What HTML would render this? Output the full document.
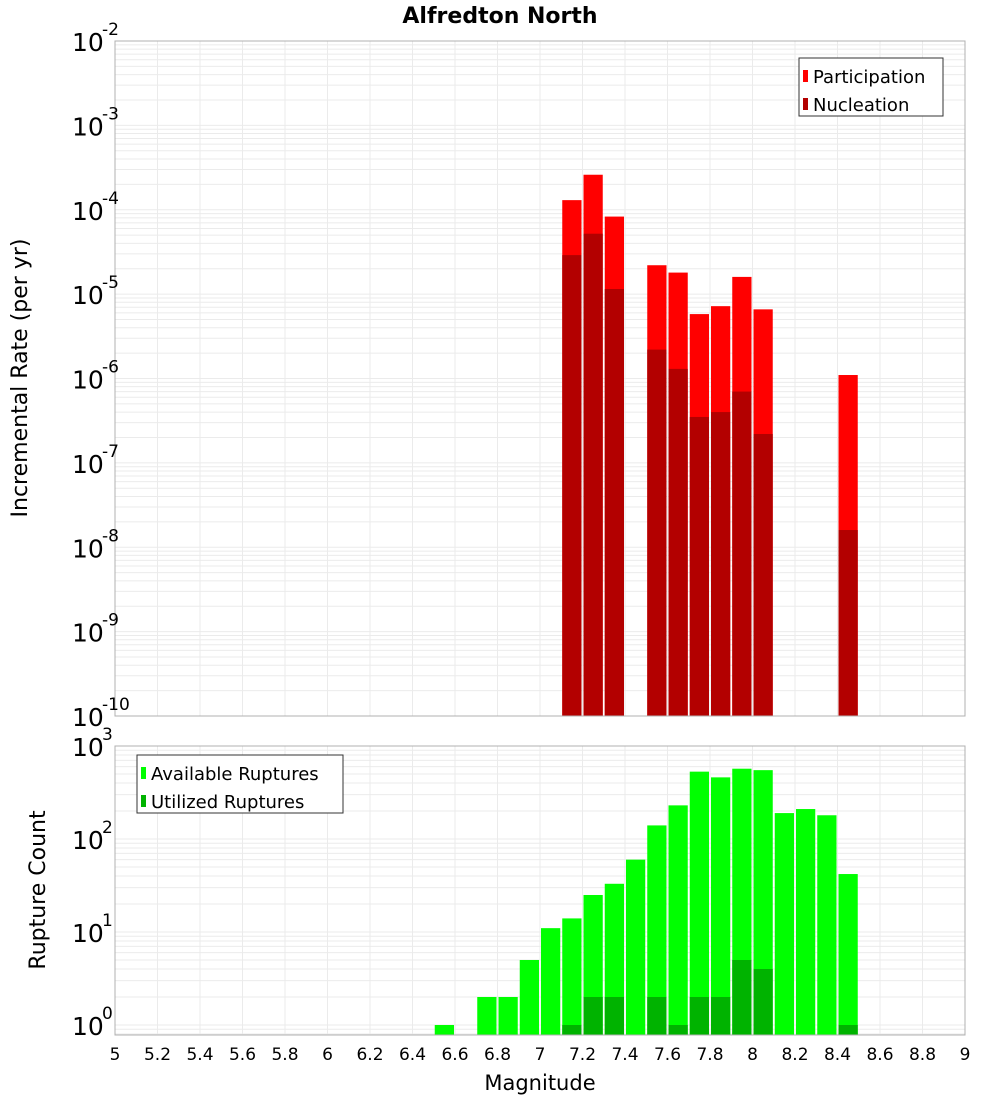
<!DOCTYPE html>
<html><head><meta charset="utf-8"><style>
body{margin:0;background:#fff;}
svg text{font-family:"DejaVu Sans","Liberation Sans",sans-serif;}
</style></head><body>
<svg id="c" width="1000" height="1100" xmlns="http://www.w3.org/2000/svg">
<text x="500" y="23" text-anchor="middle" font-size="22" font-weight="bold">Alfredton North</text>
<g id="top"></g>
<g id="bot"></g>
<text x="540" y="1090" text-anchor="middle" font-size="21">Magnitude</text>
<text transform="translate(27,378) rotate(-90)" text-anchor="middle" font-size="22">Incremental Rate (per yr)</text>
<text transform="translate(45,890) rotate(-90)" text-anchor="middle" font-size="22">Rupture Count</text>
</svg>
<script>
const topMags=[7.15,7.25,7.35,7.55,7.65,7.75,7.85,7.95,8.05,8.45];
const participation=[1.3e-4,2.6e-4,8.3e-5,2.2e-5,1.8e-5,5.8e-6,7.2e-6,1.6e-5,6.6e-6,1.1e-6];
const nucleation=[2.9e-5,5.2e-5,1.15e-5,2.2e-6,1.3e-6,3.5e-7,4e-7,7e-7,2.2e-7,1.6e-8];
const botMags=[6.55,6.75,6.85,6.95,7.05,7.15,7.25,7.35,7.45,7.55,7.65,7.75,7.85,7.95,8.05,8.15,8.25,8.35,8.45];
const available=[1,2,2,5,11,14,25,33,60,140,230,530,460,570,550,190,210,180,42];
const utilMags=[7.15,7.25,7.35,7.55,7.65,7.75,7.85,7.95,8.05,8.45];
const utilized=[1,2,2,2,1,2,2,5,4,1];
const xTicks=["5","5.2","5.4","5.6","5.8","6","6.2","6.4","6.6","6.8","7","7.2","7.4","7.6","7.8","8","8.2","8.4","8.6","8.8","9"];
const topDecades=[-10,-9,-8,-7,-6,-5,-4,-3,-2];
const botDecades=[0,1,2,3];

const NS="http://www.w3.org/2000/svg";
const X0=115,X1=965;
const x=m=>X0+(m-5)/4*(X1-X0);
const yT=v=>716-(Math.log10(v)+10)*(675/8);
const yB=v=>1025-Math.log10(v)*93;
function mk(p,t,a){const e=document.createElementNS(NS,t);for(const k in a)e.setAttribute(k,a[k]);p.appendChild(e);return e;}
const gTop=document.getElementById('top'),gBot=document.getElementById('bot');

function grid(g,y0,y1,yf,decs){
  for(let i=0;i<=20;i++){const xx=x(5+i*0.2);const l=mk(g,'line',{x1:xx,x2:xx,y1:y0,y2:y1,stroke:'#ebebeb'});
  
  }
  for(let d=decs[0]-1;d<=decs[decs.length-1];d++)for(let k=1;k<10;k++){const yy=yf(k*Math.pow(10,d));if(yy<y0-0.5||yy>y1+0.5)continue;const l=mk(g,'line',{x1:X0,x2:X1,y1:yy,y2:yy,stroke:'#ebebeb'});
  
  }
}
grid(gTop,41,716,yT,topDecades);
grid(gBot,746,1035,yB,botDecades);

function bar(g,m,v,yf,base,col,name){const w=x(5.1)-x(5);const yy=yf(v);const r=mk(g,'rect',{x:x(m-0.05)+1,y:yy,width:w-2,height:base-yy,fill:col});
 
 }
topMags.forEach((m,i)=>bar(gTop,m,participation[i],yT,716,'#ff0000','participation-bar'));
topMags.forEach((m,i)=>bar(gTop,m,nucleation[i],yT,716,'#b30000','nucleation-bar'));
botMags.forEach((m,i)=>bar(gBot,m,available[i],yB,1035,'#00ff00','available-bar'));
utilMags.forEach((m,i)=>bar(gBot,m,utilized[i],yB,1035,'#00b300','utilized-bar'));

let f=mk(gTop,'rect',{x:X0,y:41,width:X1-X0,height:675,fill:'none',stroke:'#b0b0b0'});


f=mk(gBot,'rect',{x:X0,y:746,width:X1-X0,height:289,fill:'none',stroke:'#b0b0b0'});



function ylab(g,d,yy){const t=mk(g,'text',{x:72,y:yy+10,'font-size':25});t.textContent='10';
 
 
 const s=mk(g,'text',{x:102,y:yy-6,'font-size':17});s.textContent=String(d);
 
 }
topDecades.forEach(d=>ylab(gTop,d,yT(Math.pow(10,d))));
botDecades.forEach(d=>ylab(gBot,d,yB(Math.pow(10,d))));
xTicks.forEach((s,i)=>{const t=mk(gBot,'text',{x:x(5+i*0.2),y:1060,'font-size':17,'text-anchor':'middle'});t.textContent=s;
 
 });

function legend(g,lx,ly,w,items){const r=mk(g,'rect',{x:lx,y:ly,width:w,height:58,fill:'#fff',stroke:'#333'});
 
 
 items.forEach((it,i)=>{const yy=ly+18+i*28;const s=mk(g,'rect',{x:lx+4,y:yy-6,width:5,height:12,fill:it[1]});
 
 
 const t=mk(g,'text',{x:lx+14,y:yy+7,'font-size':18});t.textContent=it[0];
 
 });}
legend(gTop,799,58,144,[['Participation','#ff0000'],['Nucleation','#b30000']]);
legend(gBot,137,755,206,[['Available Ruptures','#00ff00'],['Utilized Ruptures','#00b300']]);
</script>
</body></html>
